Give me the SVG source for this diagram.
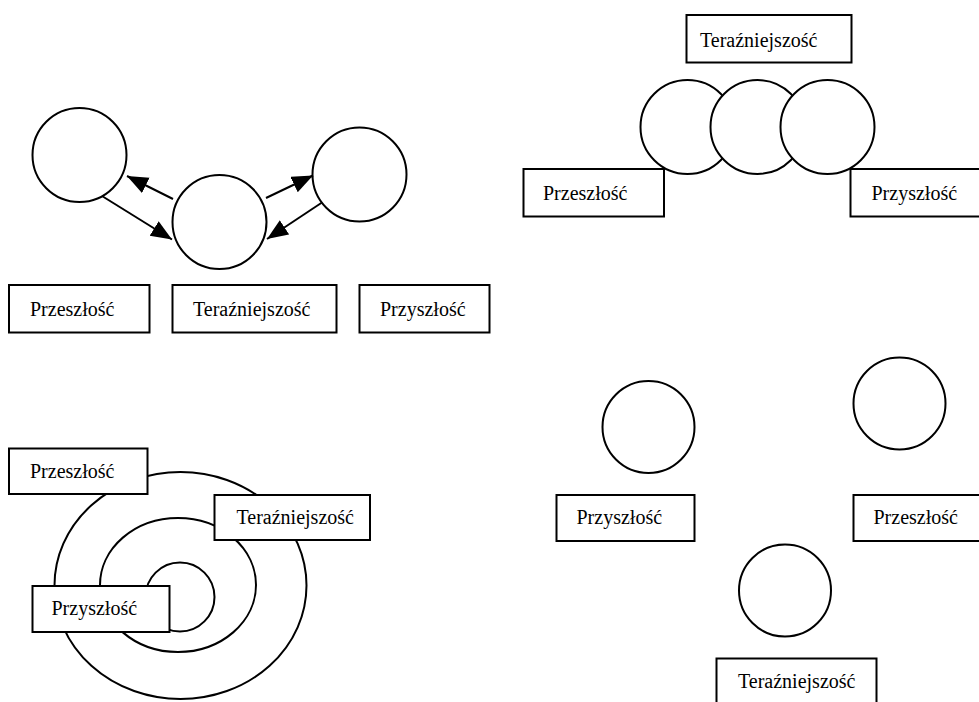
<svg xmlns="http://www.w3.org/2000/svg" width="979" height="702" viewBox="0 0 979 702" font-family="'Liberation Serif', 'DejaVu Serif', 'Times New Roman', serif">
<defs>
<style>
.s{fill:#fff;stroke:#000;stroke-width:2}
.t{font-family:'Liberation Serif','DejaVu Serif','Times New Roman',serif;font-size:20px;fill:#000}
.c{stroke:#000;stroke-width:2;fill:none}
</style>
<marker id="ah" markerUnits="userSpaceOnUse" markerWidth="24" markerHeight="18" refX="21" refY="8.5" orient="auto">
<path d="M0,0 L21,8.5 L0,17 Z" fill="#000"/>
</marker>
</defs>
<rect width="979" height="702" fill="#fff"/>

<!-- Top-left: cycle -->
<g id="tl-past-circle"><circle class="s" cx="79.5" cy="155" r="47"/></g>
<g id="tl-present-circle"><circle class="s" cx="219.5" cy="222" r="47"/></g>
<g id="tl-future-circle"><circle class="s" cx="359.5" cy="174.5" r="47"/></g>
<g id="connectors">
<line class="c" x1="173" y1="199" x2="127" y2="176" marker-end="url(#ah)"/>
<line class="c" x1="102" y1="196" x2="172" y2="239.5" marker-end="url(#ah)"/>
<line class="c" x1="266" y1="198" x2="313" y2="175.5" marker-end="url(#ah)"/>
<line class="c" x1="322" y1="202.5" x2="267" y2="239" marker-end="url(#ah)"/>
</g>
<g id="tl-past-label"><rect class="s" x="9" y="285" width="140.5" height="47.5"/><text class="t" x="30" y="316">Przeszłość</text></g>
<g id="tl-present-label"><rect class="s" x="172.5" y="285" width="164" height="47.5"/><text class="t" x="193" y="316">Teraźniejszość</text></g>
<g id="tl-future-label"><rect class="s" x="359.5" y="285" width="130" height="47.5"/><text class="t" x="380" y="316">Przyszłość</text></g>

<!-- Top-right: overlapping circles -->
<g id="tr-present-label"><rect class="s" x="686.5" y="15" width="165" height="47.5"/><text class="t" x="700" y="47">Teraźniejszość</text></g>
<g id="tr-past-label"><rect class="s" x="523.5" y="169" width="140.5" height="47.5"/><text class="t" x="543" y="200">Przeszłość</text></g>
<g id="tr-future-label"><rect class="s" x="850.5" y="169" width="135" height="47.5"/><text class="t" x="871.5" y="200">Przyszłość</text></g>
<g id="tr-circle-1"><circle class="s" cx="687.5" cy="127" r="47"/></g>
<g id="tr-circle-2"><circle class="s" cx="757.5" cy="127" r="47"/></g>
<g id="tr-circle-3"><circle class="s" cx="827.5" cy="127" r="47"/></g>

<!-- Bottom-left: concentric -->
<g id="bl-past-ring"><ellipse class="s" cx="180.5" cy="585.5" rx="126" ry="113.5"/></g>
<g id="bl-present-ring"><ellipse class="s" cx="178" cy="585" rx="78" ry="67"/></g>
<g id="bl-future-ring"><circle class="s" cx="180" cy="597" r="34.5"/></g>
<g id="bl-past-label"><rect class="s" x="9" y="448.5" width="138.5" height="45.5"/><text class="t" x="30" y="478">Przeszłość</text></g>
<g id="bl-present-label"><rect class="s" x="214.5" y="495" width="155.5" height="45"/><text class="t" x="236.5" y="524">Teraźniejszość</text></g>
<g id="bl-future-label"><rect class="s" x="32.5" y="586" width="137" height="46"/><text class="t" x="51.5" y="615">Przyszłość</text></g>

<!-- Bottom-right: separate circles -->
<g id="br-future-circle"><circle class="s" cx="648.5" cy="427" r="46"/></g>
<g id="br-past-circle"><circle class="s" cx="899.5" cy="403.5" r="46"/></g>
<g id="br-present-circle"><circle class="s" cx="785" cy="590.5" r="46"/></g>
<g id="br-future-label"><rect class="s" x="556.5" y="495" width="138" height="46"/><text class="t" x="576.5" y="524">Przyszłość</text></g>
<g id="br-past-label"><rect class="s" x="853.5" y="495" width="132" height="46"/><text class="t" x="873.5" y="524">Przeszłość</text></g>
<g id="br-present-label"><rect class="s" x="716.5" y="658.5" width="160" height="50"/><text class="t" x="738" y="688">Teraźniejszość</text></g>
</svg>
